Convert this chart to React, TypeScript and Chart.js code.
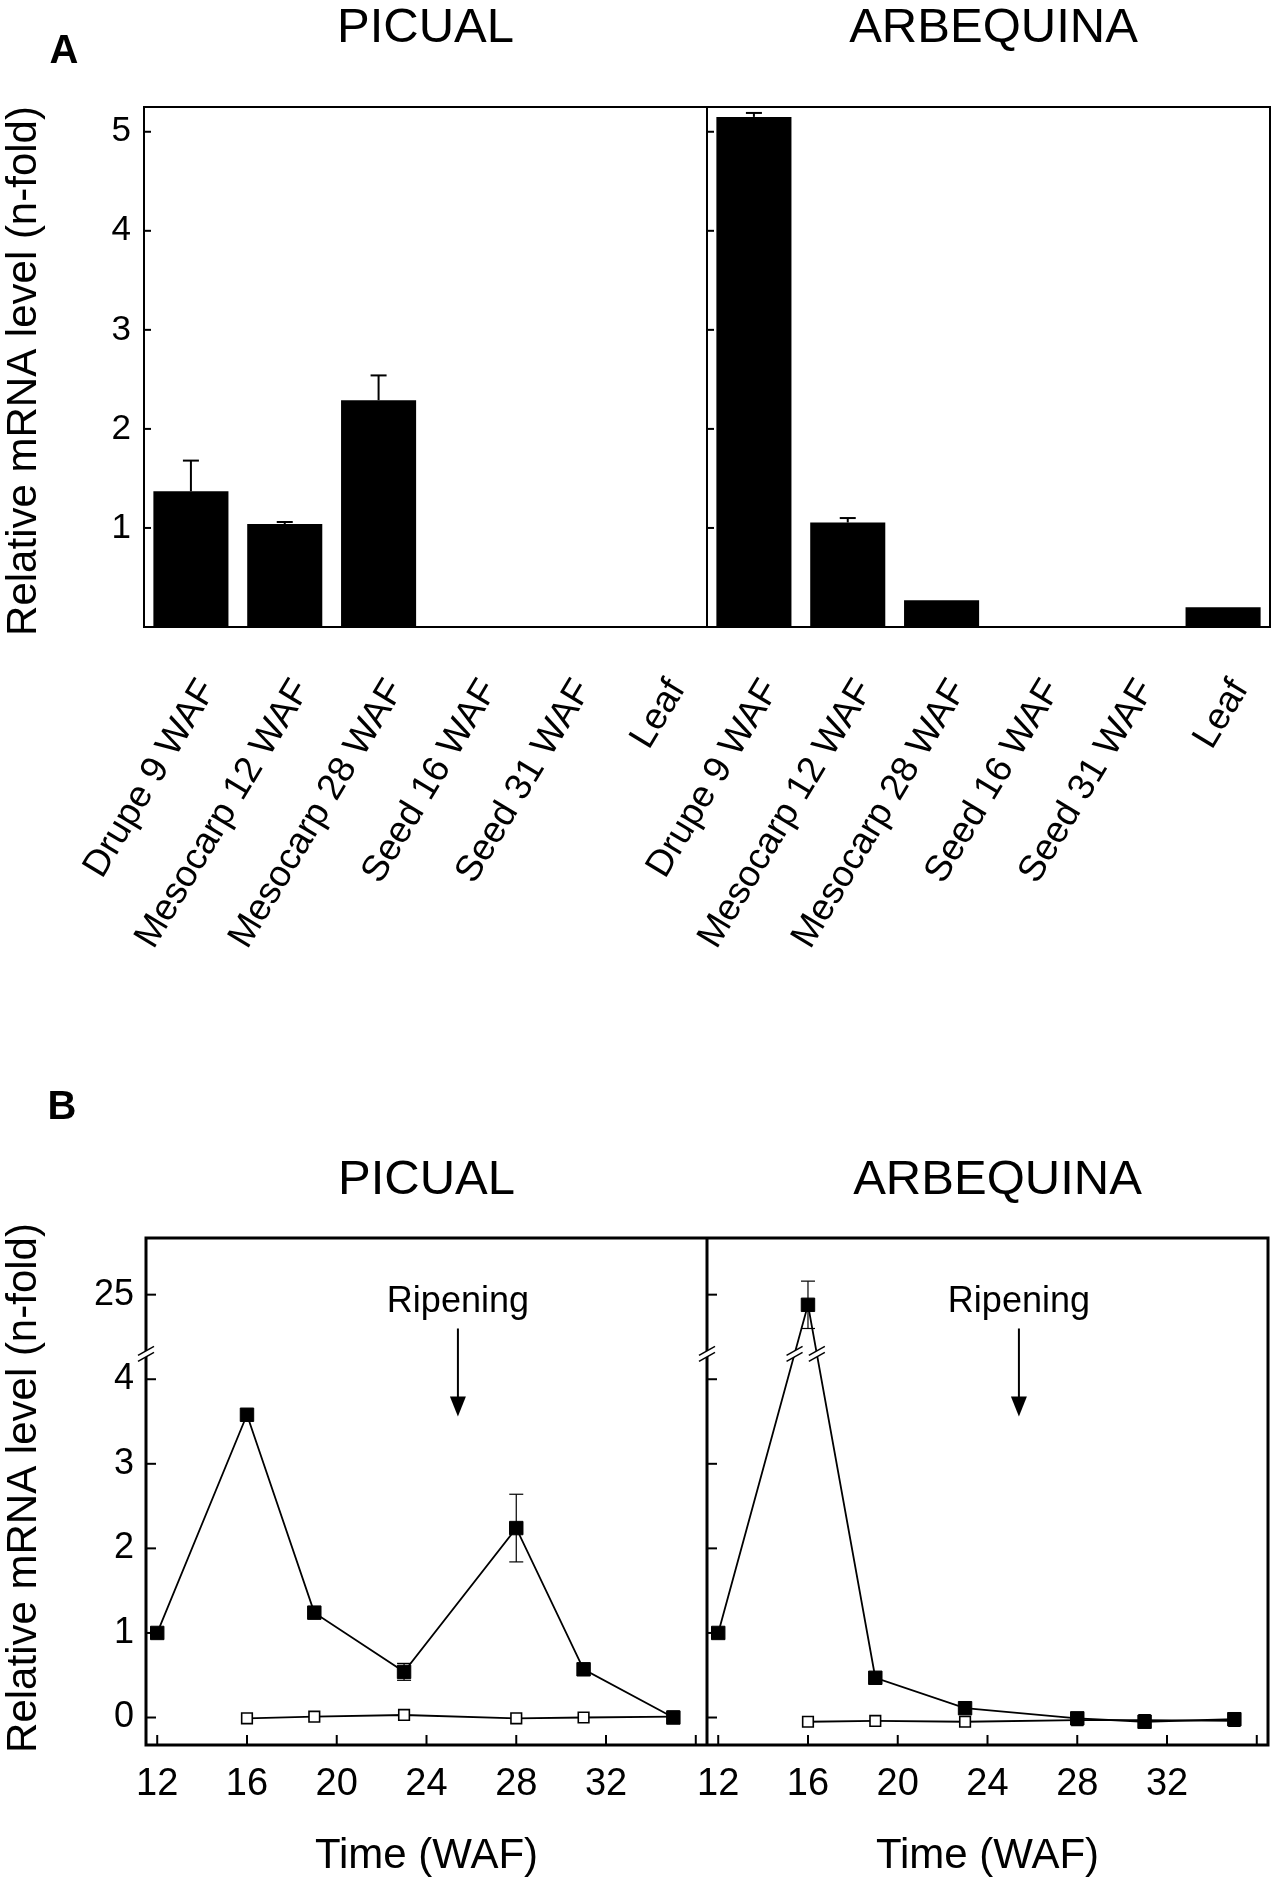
import { useEffect, useRef } from 'react'
import { Chart, registerables } from 'chart.js'

Chart.register(...registerables)

const FONT = '"Liberation Sans", Arial, Helvetica, sans-serif'

// A: expression per organ
const ORGANS = ['Drupe 9 WAF', 'Mesocarp 12 WAF', 'Mesocarp 28 WAF', 'Seed 16 WAF', 'Seed 31 WAF', 'Leaf']
const PICUAL_ORGAN = [1.37, 1.04, 2.29, 0, 0, 0]
const PICUAL_ORGAN_ERR = [0.31, 0.02, 0.25, 0, 0, 0]
const ARBEQUINA_ORGAN = [5.15, 1.055, 0.27, 0, 0, 0.2]
const ARBEQUINA_ORGAN_ERR = [0.04, 0.045, 0, 0, 0, 0]
const ORGAN_TICKS = [1, 2, 3, 4, 5]

// B: time course (weeks after flowering)
const WEEKS = [12, 16, 19, 23, 28, 31, 35]
const PICUAL_FILLED = [1.0, 3.58, 1.24, 0.54, 2.24, 0.57, 0.0]
const PICUAL_FILLED_ERR = [0, 0, 0, 0.1, 0.4, 0, 0]
const OPEN_WEEKS = [16, 19, 23, 28, 31, 35]
const PICUAL_OPEN = [-0.01, 0.01, 0.03, -0.01, 0.0, 0.01]
const ARBEQUINA_FILLED = [1.0, 24.4, 0.47, 0.11, -0.01, -0.05, -0.02]
const ARBEQUINA_FILLED_ERR = [0, 1.4, 0, 0, 0, 0, 0]
const ARBEQUINA_OPEN = [-0.05, -0.04, -0.05, -0.03, -0.03, -0.04]
const TIME_TICKS = [12, 16, 20, 24, 28, 32, 36]
const TIME_LABELED = [12, 16, 20, 24, 28, 32]
const LEVEL_TICKS = [0, 1, 2, 3, 4, 25]

// broken y axis: everything above the cut is squeezed (5 units per step)
const BREAK_AT = 4.3
const toAxis = (v: number) => (v > 10 ? 5 + (v - 25) / 5 : v)

const RIPENING_X = 25.4
const RIPENING_TEXT_Y = 4.91
const RIPENING_ARROW = [4.6, 3.56]

function line(ctx: CanvasRenderingContext2D, x1: number, y1: number, x2: number, y2: number) {
  ctx.beginPath()
  ctx.moveTo(x1, y1)
  ctx.lineTo(x2, y2)
  ctx.stroke()
}

function label(ctx: CanvasRenderingContext2D, str: string, x: number, y: number, size: number, bold = false, rot = 0) {
  ctx.save()
  ctx.translate(x, y)
  ctx.rotate(rot)
  ctx.font = `${bold ? 'bold ' : ''}${size}px ${FONT}`
  ctx.fillStyle = '#000'
  ctx.textAlign = 'center'
  ctx.textBaseline = 'middle'
  ctx.fillText(str, 0, 0)
  ctx.restore()
}

function breakMark(ctx: CanvasRenderingContext2D, x: number, y: number) {
  ctx.save()
  ctx.translate(x, y)
  ctx.fillStyle = '#fff'
  ctx.beginPath()
  ctx.moveTo(-8, 1.5)
  ctx.lineTo(8, -7.5)
  ctx.lineTo(8, -1.5)
  ctx.lineTo(-8, 7.5)
  ctx.closePath()
  ctx.fill()
  ctx.strokeStyle = '#000'
  ctx.lineWidth = 1.5
  line(ctx, -8, 1.5, 8, -7.5)
  line(ctx, -8, 7.5, 8, -1.5)
  ctx.restore()
}

const organPlugin = {
  id: 'organDecor',
  afterDatasetsDraw(chart: any) {
    const { ctx, chartArea: a, scales } = chart
    const y = scales.y
    const x1 = scales.x1
    const x2 = scales.x2

    ctx.save()
    ctx.strokeStyle = '#000'
    ctx.lineWidth = 2
    const errs = [PICUAL_ORGAN_ERR, ARBEQUINA_ORGAN_ERR]
    const vals = [PICUAL_ORGAN, ARBEQUINA_ORGAN]
    errs.forEach((err, d) => {
      chart.getDatasetMeta(d).data.forEach((bar: any, i: number) => {
        if (!err[i]) return
        const top = y.getPixelForValue(vals[d][i] + err[i])
        line(ctx, bar.x, y.getPixelForValue(vals[d][i]), bar.x, top)
        line(ctx, bar.x - 8, top, bar.x + 8, top)
      })
    })

    ctx.lineWidth = 2
    ctx.strokeRect(a.left, a.top, a.right - a.left, a.bottom - a.top)
    line(ctx, x2.left, a.top, x2.left, a.bottom)
    for (const v of ORGAN_TICKS) {
      const py = y.getPixelForValue(v)
      line(ctx, a.left, py, a.left + 7, py)
      line(ctx, x2.left, py, x2.left + 7, py)
    }
    ctx.restore()

    label(ctx, 'PICUAL', (x1.left + x1.right) / 2, 28, 49)
    label(ctx, 'ARBEQUINA', (x2.left + x2.right) / 2 + 5, 28, 49)
    label(ctx, 'A', 64, 52, 40, true)
    label(ctx, 'Relative mRNA level (n-fold)', 24, 371, 42, false, -Math.PI / 2)
  },
}

const timePlugin = {
  id: 'timeDecor',
  beforeDatasetsDraw(chart: any) {
    const { ctx, scales } = chart
    const y = scales.y
    ctx.save()
    ctx.strokeStyle = '#000'
    ctx.lineWidth = 1.2
    const sets: [number, number[], number[]][] = [
      [0, PICUAL_FILLED, PICUAL_FILLED_ERR],
      [2, ARBEQUINA_FILLED, ARBEQUINA_FILLED_ERR],
    ]
    for (const [d, vals, err] of sets) {
      chart.getDatasetMeta(d).data.forEach((pt: any, i: number) => {
        if (!err[i]) return
        const top = y.getPixelForValue(toAxis(vals[i] + err[i]))
        const bot = y.getPixelForValue(toAxis(vals[i] - err[i]))
        line(ctx, pt.x, top, pt.x, bot)
        line(ctx, pt.x - 7, top, pt.x + 7, top)
        line(ctx, pt.x - 7, bot, pt.x + 7, bot)
      })
    }
    ctx.restore()
  },
  afterDatasetsDraw(chart: any) {
    const { ctx, chartArea: a, scales } = chart
    const y = scales.y
    const x1 = scales.x1
    const x2 = scales.x2

    ctx.save()
    ctx.strokeStyle = '#000'
    ctx.lineWidth = 3
    ctx.strokeRect(a.left, a.top, a.right - a.left, a.bottom - a.top)
    line(ctx, x2.left, a.top, x2.left, a.bottom)
    ctx.lineWidth = 2
    for (const t of LEVEL_TICKS) {
      const py = y.getPixelForValue(toAxis(t))
      line(ctx, a.left, py, a.left + 10, py)
      line(ctx, x2.left, py, x2.left + 10, py)
    }
    for (const sc of [x1, x2]) {
      for (const t of TIME_TICKS) {
        const px = sc.getPixelForValue(t)
        line(ctx, px, a.bottom, px, a.bottom - 10)
      }
    }

    // cut marks on both y axes and on the Arbequina line around its peak
    const cut = y.getPixelForValue(BREAK_AT)
    breakMark(ctx, a.left, cut)
    breakMark(ctx, x2.left, cut)
    const pts = chart.getDatasetMeta(2).data
    for (let i = 1; i < pts.length; i++) {
      const p = pts[i - 1]
      const q = pts[i]
      if ((p.y - cut) * (q.y - cut) < 0) {
        const t = (cut - p.y) / (q.y - p.y)
        breakMark(ctx, p.x + t * (q.x - p.x), cut)
      }
    }

    // ripening arrows
    for (const sc of [x1, x2]) {
      const px = sc.getPixelForValue(RIPENING_X)
      label(ctx, 'Ripening', px, y.getPixelForValue(RIPENING_TEXT_Y), 36)
      const y0 = y.getPixelForValue(RIPENING_ARROW[0])
      const y1 = y.getPixelForValue(RIPENING_ARROW[1])
      ctx.lineWidth = 2
      line(ctx, px, y0, px, y1 - 18)
      ctx.fillStyle = '#000'
      ctx.beginPath()
      ctx.moveTo(px, y1)
      ctx.lineTo(px - 8, y1 - 20)
      ctx.lineTo(px + 8, y1 - 20)
      ctx.closePath()
      ctx.fill()
    }
    ctx.restore()

    label(ctx, 'PICUAL', (x1.left + x1.right) / 2, 180, 49)
    label(ctx, 'ARBEQUINA', (x2.left + x2.right) / 2 + 10, 180, 49)
    label(ctx, 'Time (WAF)', (x1.left + x1.right) / 2, 856, 42)
    label(ctx, 'Time (WAF)', (x2.left + x2.right) / 2, 856, 42)
    label(ctx, 'B', 62, 108, 40, true)
    label(ctx, 'Relative mRNA level (n-fold)', 24, 488, 42, false, -Math.PI / 2)
  },
}

const noGrid = { display: false, drawTicks: false }
const noBorder = { display: false }

function OrganChart() {
  const ref = useRef<HTMLCanvasElement>(null)
  useEffect(() => {
    if (!ref.current) return
    const organAxis = (labels: string[]) => ({
      type: 'category' as const,
      labels,
      position: 'bottom' as const,
      stack: 'organs',
      stackWeight: 1,
      grid: noGrid,
      border: noBorder,
      ticks: {
        color: '#000', font: { size: 37 }, minRotation: 59, maxRotation: 59,
        autoSkip: false, padding: 45, labelOffset: 17,
      },
      afterFit: (s: any) => {
        s.height = 373
        s.paddingLeft = 0
        s.paddingRight = 0
      },
    })
    const bar = { backgroundColor: '#000', borderWidth: 0, barPercentage: 0.8, categoryPercentage: 1, grouped: false }
    const chart = new Chart(ref.current, {
      type: 'bar',
      data: {
        datasets: [
          { label: 'Picual', data: PICUAL_ORGAN, xAxisID: 'x1', ...bar },
          { label: 'Arbequina', data: ARBEQUINA_ORGAN, xAxisID: 'x2', ...bar },
        ],
      },
      options: {
        responsive: false,
        animation: false,
        events: [],
        layout: { padding: { top: 107, right: 10, left: 0, bottom: 0 } },
        plugins: { legend: { display: false }, tooltip: { enabled: false } },
        scales: {
          x1: organAxis(ORGANS),
          x2: organAxis(ORGANS),
          y: {
            type: 'linear',
            min: 0,
            max: 5.25,
            grid: noGrid,
            border: noBorder,
            afterBuildTicks: (s: any) => { s.ticks = ORGAN_TICKS.map(v => ({ value: v })) },
            ticks: { color: '#000', font: { size: 35 }, padding: 13 },
            afterFit: (s: any) => { s.width = 144 },
          },
        },
      } as any,
      plugins: [organPlugin],
    })
    return () => chart.destroy()
  }, [])
  return <canvas ref={ref} width={1280} height={1000} style={{ display: 'block' }} />
}

function TimeChart() {
  const ref = useRef<HTMLCanvasElement>(null)
  useEffect(() => {
    if (!ref.current) return
    const series = (weeks: number[], vals: number[]) => weeks.map((w, i) => ({ x: w, y: toAxis(vals[i]) }))
    const filled = {
      borderColor: '#000', borderWidth: 1.8, tension: 0, pointStyle: 'rect',
      pointRadius: 9.5, pointBackgroundColor: '#000', pointBorderColor: '#000', pointBorderWidth: 1, order: 1,
    }
    const open = {
      borderColor: '#000', borderWidth: 1.8, tension: 0, pointStyle: 'rect',
      pointRadius: 7.5, pointBackgroundColor: '#fff', pointBorderColor: '#000', pointBorderWidth: 1.6, order: 2,
    }
    const weekAxis = () => ({
      type: 'linear' as const,
      min: 11.5,
      max: 36.5,
      position: 'bottom' as const,
      stack: 'weeks',
      stackWeight: 1,
      grid: noGrid,
      border: noBorder,
      afterBuildTicks: (s: any) => { s.ticks = TIME_TICKS.map(v => ({ value: v })) },
      ticks: {
        color: '#000', font: { size: 38 }, padding: 17, maxRotation: 0, autoSkip: false,
        callback: (v: any) => (TIME_LABELED.includes(Number(v)) ? String(v) : ''),
      },
      afterFit: (s: any) => {
        s.height = 139
        s.paddingLeft = 0
        s.paddingRight = 0
      },
    })
    const chart = new Chart(ref.current, {
      type: 'line',
      data: {
        datasets: [
          { label: 'Picual', data: series(WEEKS, PICUAL_FILLED), xAxisID: 'x1', ...filled },
          { label: 'Picual open', data: series(OPEN_WEEKS, PICUAL_OPEN), xAxisID: 'x1', ...open },
          { label: 'Arbequina', data: series(WEEKS, ARBEQUINA_FILLED), xAxisID: 'x2', ...filled },
          { label: 'Arbequina open', data: series(OPEN_WEEKS, ARBEQUINA_OPEN), xAxisID: 'x2', ...open },
        ],
      },
      options: {
        responsive: false,
        animation: false,
        events: [],
        layout: { padding: { top: 238, right: 12, left: 0, bottom: 0 } },
        plugins: { legend: { display: false }, tooltip: { enabled: false } },
        scales: {
          x1: weekAxis(),
          x2: weekAxis(),
          y: {
            type: 'linear',
            min: -0.325,
            max: 5.67,
            grid: noGrid,
            border: noBorder,
            afterBuildTicks: (s: any) => { s.ticks = LEVEL_TICKS.map(t => ({ value: toAxis(t) })) },
            ticks: {
              color: '#000', font: { size: 36 }, padding: 12,
              callback: (v: any) => {
                const t = LEVEL_TICKS.find(l => toAxis(l) === Number(v))
                return t === undefined ? '' : String(t)
              },
            },
            afterFit: (s: any) => { s.width = 146 },
          },
        },
      } as any,
      plugins: [timePlugin],
    })
    return () => chart.destroy()
  }, [])
  return <canvas ref={ref} width={1280} height={884} style={{ display: 'block' }} />
}

export default function App() {
  useEffect(() => {
    document.body.style.margin = '0'
    document.body.style.background = '#fff'
  }, [])
  return (
    <div style={{ width: 1280, background: '#fff' }}>
      <OrganChart />
      <TimeChart />
    </div>
  )
}
